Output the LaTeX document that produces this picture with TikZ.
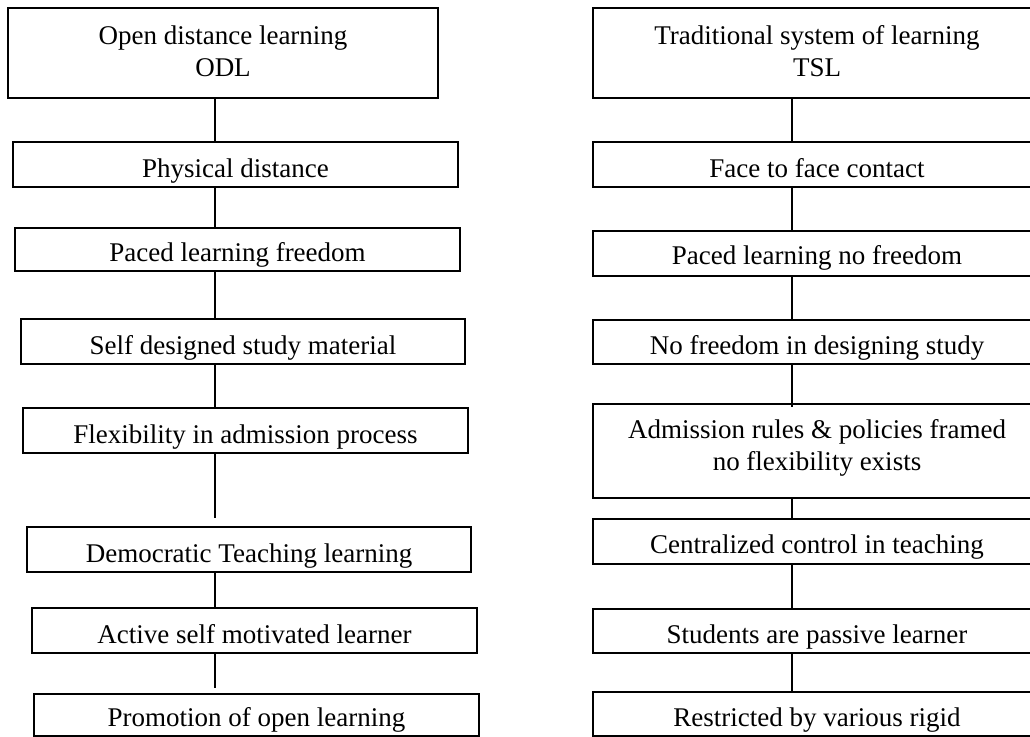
\documentclass[tikz,border=0pt]{standalone}
\usepackage{fontspec}
\setmainfont{Liberation Serif}
\usepackage{tikz}

\tikzset{
  stage/.style={draw, line width=1.5pt, anchor=north west, align=center,
    inner xsep=0pt, inner ysep=0pt, font=\fontsize{20.25}{24}\selectfont,
    text height=26.25pt, text depth=7.5pt},
  link/.style={line width=1.5pt}
}

\begin{document}
\begin{tikzpicture}[x=0.75pt,y=-0.75pt]
  \useasboundingbox[fill=white] (0,0) rectangle (1030,736);
  \clip (0,0) rectangle (1030,736);
  % Left column: ODL
  \node[stage, minimum width=322.5pt, text height=51pt, text depth=16.5pt] (odl) at (7,7)
    {Open distance learning\\ODL};
  \node[stage, minimum width=333.75pt] (odl2) at (12,141) {Physical distance};
  \node[stage, minimum width=333.75pt, text height=24.75pt] (odl3) at (14,227) {Paced learning freedom};
  \node[stage, minimum width=333pt] (odl4) at (20,318) {Self designed study material};
  \node[stage, minimum width=333.75pt] (odl5) at (22,407) {Flexibility in admission process};
  \node[stage, minimum width=333pt] (odl6) at (26,526) {Democratic Teaching learning};
  \node[stage, minimum width=333.75pt] (odl7) at (31,607) {Active self motivated learner};
  \node[stage, minimum width=333.75pt, text height=24pt] (odl8) at (33,693) {Promotion of open learning};
  % Right column: TSL
  \node[stage, minimum width=336pt, text height=51pt, text depth=16.5pt] (tsl) at (592,7)
    {Traditional system of learning\\TSL};
  \node[stage, minimum width=336pt] (tsl2) at (592,141) {Face to face contact};
  \node[stage, minimum width=336pt, text depth=9pt, text height=24.75pt] (tsl3) at (592,230) {Paced learning no freedom};
  \node[stage, minimum width=336pt, text height=25.5pt] (tsl4) at (592,319) {No freedom in designing study};
  \node[stage, minimum width=336pt, text height=49.5pt, text depth=21pt] (tsl5) at (592,403)
    {Admission rules \& policies framed\\no flexibility exists};
  \node[stage, minimum width=336pt, text depth=8.25pt, text height=25.5pt] (tsl6) at (592,518) {Centralized control in teaching};
  \node[stage, minimum width=336pt, text height=25.5pt] (tsl7) at (592,608) {Students are passive learner};
  \node[stage, minimum width=336pt, text height=25.5pt] (tsl8) at (592,691) {Restricted by various rigid};
  % Connector axes
  \coordinate (lx) at (215,0);
  \coordinate (rx) at (792,0);
  % Links
  \draw[link] (odl.south -| lx) -- (odl2.north -| lx);
  \draw[link] (odl2.south -| lx) -- (odl3.north -| lx);
  \draw[link] (odl3.south -| lx) -- (odl4.north -| lx);
  \draw[link] (odl4.south -| lx) -- (odl5.north -| lx);
  \draw[link, shorten >=6pt] (odl5.south -| lx) -- (odl6.north -| lx);
  \draw[link] (odl6.south -| lx) -- (odl7.north -| lx);
  \draw[link, shorten >=3.75pt] (odl7.south -| lx) -- (odl8.north -| lx);
  \draw[link] (tsl.south -| rx) -- (tsl2.north -| rx);
  \draw[link] (tsl2.south -| rx) -- (tsl3.north -| rx);
  \draw[link] (tsl3.south -| rx) -- (tsl4.north -| rx);
  \draw[link, shorten >=-3pt] (tsl4.south -| rx) -- (tsl5.north -| rx);
  \draw[link] (tsl5.south -| rx) -- (tsl6.north -| rx);
  \draw[link] (tsl6.south -| rx) -- (tsl7.north -| rx);
  \draw[link] (tsl7.south -| rx) -- (tsl8.north -| rx);
\end{tikzpicture}
\end{document}
